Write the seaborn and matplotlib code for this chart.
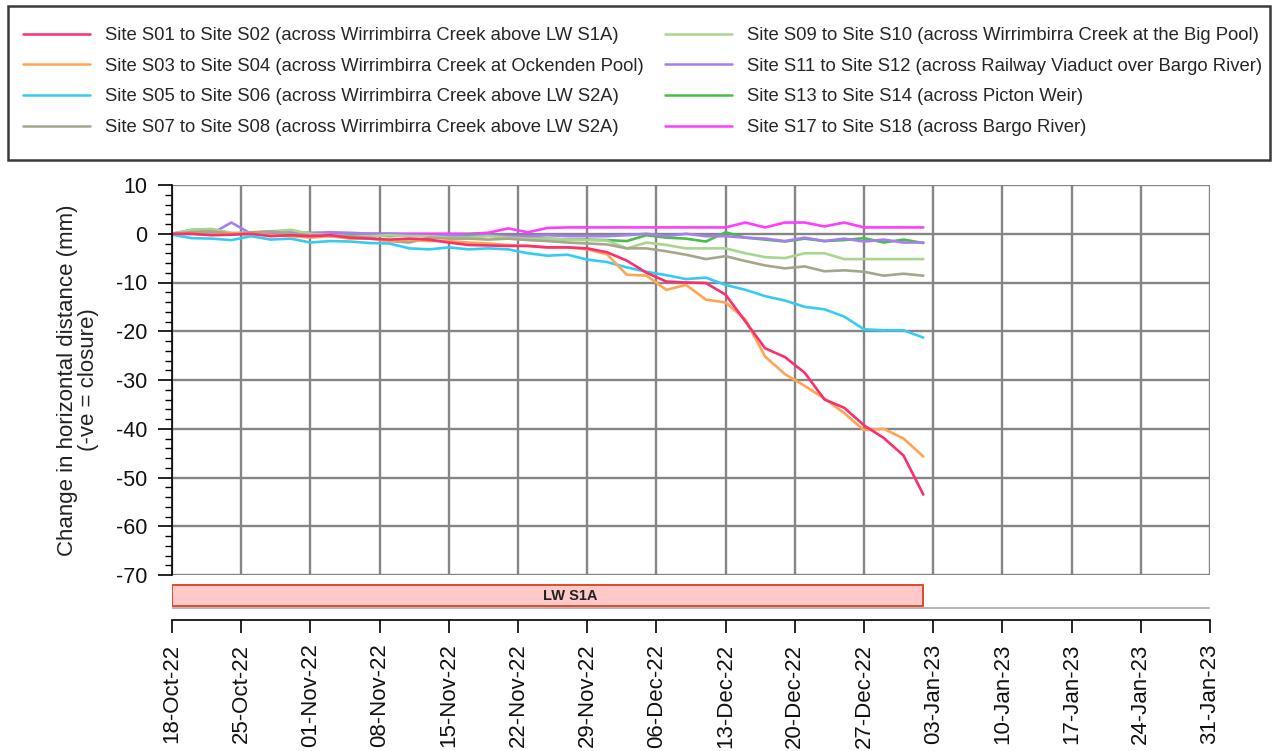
import numpy as np
import pandas as pd
import matplotlib
matplotlib.use("Agg")
import matplotlib.pyplot as plt
import matplotlib.dates as mdates
from matplotlib.ticker import MultipleLocator
from matplotlib.patches import Rectangle
import seaborn as sns

sns.set_theme(style="white")
plt.rcParams["font.family"] = ["Liberation Sans", "DejaVu Sans"]
plt.rcParams["axes.unicode_minus"] = False

# ---------------- data ----------------
survey_dates = pd.date_range("2022-10-18", "2023-01-02", freq="2D")

series_labels = [
    "Site S01 to Site S02 (across Wirrimbirra Creek above LW S1A)",
    "Site S03 to Site S04 (across Wirrimbirra Creek at Ockenden Pool)",
    "Site S05 to Site S06 (across Wirrimbirra Creek above LW S2A)",
    "Site S07 to Site S08 (across Wirrimbirra Creek above LW S2A)",
    "Site S09 to Site S10 (across Wirrimbirra Creek at the Big Pool)",
    "Site S11 to Site S12 (across Railway Viaduct over Bargo River)",
    "Site S13 to Site S14 (across Picton Weir)",
    "Site S17 to Site S18 (across Bargo River)",
]
series_colors = ["#FB2F6E", "#FFA552", "#33CDF3", "#A6A68C",
                 "#A9D68F", "#A77DF3", "#45C045", "#FF3CFF"]

s01_s02 = [0, 0, -0.3, -0.2, 0, -0.5, -0.3, -0.5, -0.3, -0.8, -1.0, -1.2, -1.0,
           -1.2, -1.8, -2.3, -2.4, -2.5, -2.5, -2.8, -2.8, -3.0, -3.8, -5.5, -8.0,
           -9.8, -10.0, -10.1, -12.5, -18.0, -23.5, -25.3, -28.5, -34.0, -35.7,
           -39.3, -41.9, -45.5, -53.5]
s03_s04 = [0, 0, -0.2, 0, 0, -0.3, -0.5, -0.8, -0.5, -1.0, -1.0, -1.5, -1.2,
           -1.5, -1.5, -1.8, -2.0, -2.3, -2.5, -2.8, -2.8, -3.2, -4.2, -8.4, -8.6,
           -11.5, -10.5, -13.5, -14.1, -17.6, -25.2, -28.8, -31.2, -33.8, -36.8,
           -40.3, -40.0, -42.0, -45.7]
s05_s06 = [-0.2, -0.9, -1.0, -1.3, -0.5, -1.2, -1.0, -1.8, -1.5, -1.6, -1.9, -2.0,
           -3.0, -3.2, -2.8, -3.2, -3.0, -3.2, -4.0, -4.5, -4.3, -5.3, -5.8, -6.9,
           -7.8, -8.5, -9.3, -9.0, -10.5, -11.5, -12.8, -13.7, -15.0, -15.5, -17.0,
           -19.6, -19.8, -19.8, -21.3]
s07_s08 = [0, 0.3, 0.5, 0, 0.3, 0.5, 0, -0.3, -0.5, -0.5, -0.8, -1.5, -1.8, -0.8,
           -1.0, -1.0, -1.2, -1.0, -1.3, -1.5, -1.8, -2.0, -2.2, -3.0, -3.0, -3.6,
           -4.3, -5.2, -4.6, -5.6, -6.5, -7.1, -6.7, -7.7, -7.5, -7.8, -8.6, -8.2,
           -8.6]
s09_s10 = [0, 0.8, 1.0, 0.2, 0.2, 0.5, 0.8, 0, -0.3, -0.5, -0.5, -0.3, -0.5, -0.5,
           -0.8, -0.8, -0.5, -0.8, -1.0, -1.0, -1.2, -1.3, -1.4, -3.0, -1.8, -2.3,
           -3.0, -3.0, -3.0, -4.0, -4.8, -5.0, -4.0, -4.0, -5.2, -5.2, -5.2, -5.2,
           -5.2]
s11_s12 = [0, 0, 0, 2.3, 0, 0, 0.3, 0.2, 0.3, 0.2, 0, 0, -0.2, -0.5, -0.3, -0.5,
           -0.3, -0.5, -0.5, -0.3, -0.5, -0.5, -0.5, -0.3, 0, -0.5, 0, -0.5, -0.5,
           -0.8, -1.0, -1.5, -0.8, -1.5, -1.0, -1.6, -1.2, -1.8, -1.8]
s13_s14 = [0, 0.8, 0.8, 0, 0, 0.3, 0.3, -0.3, -0.5, -0.3, -0.3, -0.5, -0.3, -0.5,
           -0.5, -0.2, -0.3, -0.5, -0.8, -1.0, -1.2, -1.2, -1.3, -1.5, -0.3, -0.8,
           -1.0, -1.6, 0.3, -0.8, -1.2, -1.6, -1.0, -1.5, -1.3, -0.9, -1.8, -1.2,
           -1.9]
s17_s18 = [0, 0, 0, 0, 0, 0, 0, 0, 0, 0, 0, 0, 0, 0, 0, 0, 0.2, 1.1, 0.3, 1.2, 1.3,
           1.3, 1.3, 1.3, 1.3, 1.3, 1.3, 1.3, 1.3, 2.3, 1.3, 2.3, 2.3, 1.5, 2.3, 1.3,
           1.3, 1.3, 1.3]

all_series = [s01_s02, s03_s04, s05_s06, s07_s08, s09_s10, s11_s12, s13_s14, s17_s18]

panel_label = "LW S1A"
panel_start, panel_end = "2022-10-18", "2023-01-02"
axis_start, axis_end = "2022-10-18", "2023-01-31"
y_label = "Change in horizontal distance (mm)\n(-ve = closure)"

frames = []
for lab, vals in zip(series_labels, all_series):
    frames.append(pd.DataFrame({"date": survey_dates, "value": vals, "series": lab}))
df = pd.concat(frames, ignore_index=True)

# ---------------- figure ----------------
W, H = 1276, 751
fig = plt.figure(figsize=(W / 100, H / 100), dpi=100)
fig.patch.set_facecolor("white")


def px(l, t, r, b):
    return [l / W, 1 - b / H, (r - l) / W, (b - t) / H]


ax = fig.add_axes(px(172, 185, 1210, 575))
sns.lineplot(data=df, x="date", y="value", hue="series", hue_order=series_labels,
             palette=series_colors, estimator=None, linewidth=1.9, ax=ax,
             legend=True)
handles, labels = ax.get_legend_handles_labels()
ax.get_legend().remove()
for i, line in enumerate(ax.get_lines()[:len(series_labels)]):
    line.set_zorder(10 - i)

week_ticks = pd.date_range(axis_start, axis_end, freq="7D")
ax.set_xlim(pd.Timestamp(axis_start), pd.Timestamp(axis_end))
ax.set_xticks(week_ticks)
ax.tick_params(axis="x", length=0, labelbottom=False)
ax.set_xlabel("")
ax.set_ylim(-70, 10)
ax.set_yticks(np.arange(-70, 11, 10))
ax.yaxis.set_minor_locator(MultipleLocator(2))
ax.grid(True, which="major", color="#858585", linewidth=1.7)
ax.set_axisbelow(True)
for s in ["top", "right", "bottom"]:
    ax.spines[s].set_visible(False)
ax.spines["left"].set_color("black")
ax.spines["left"].set_linewidth(1.2)
ax.spines["left"].set_zorder(20)
ax.tick_params(axis="y", which="major", direction="out", length=10, width=1.2,
               color="black", labelsize=15.5, pad=8, labelcolor="#111111", left=True)
ax.tick_params(axis="y", which="minor", direction="out", length=5, width=1.0,
               color="black", left=True)
ax.set_ylabel(y_label, fontsize=16, color="#222222", linespacing=1.0)
ax.yaxis.set_label_coords(-0.07, 0.5)

# ---------------- LW panel + date axis ----------------
ax2 = fig.add_axes(px(172, 580, 1210, 620), sharex=ax)
ax2.patch.set_alpha(0)
p0 = mdates.date2num(pd.Timestamp(panel_start))
p1 = mdates.date2num(pd.Timestamp(panel_end))
ax2.barh(y=0.6125, width=p1 - p0, left=p0, height=0.525, color="#FFC9C9",
         edgecolor="#E04A2A", linewidth=1.4)
ax2.text(p0 + (p1 - p0) * 0.53, 0.6, panel_label, ha="center", va="center",
         fontsize=10.5, fontweight="bold",
         family=["Liberation Sans Narrow", "Liberation Sans"], color="#222222")
ax2.axhline(0.3, color="#b5b5b5", linewidth=1.4)
ax2.set_ylim(0, 1)
ax2.set_yticks([])
for s in ["top", "right", "left"]:
    ax2.spines[s].set_visible(False)
ax2.spines["bottom"].set_color("black")
ax2.spines["bottom"].set_linewidth(1.2)
ax2.set_xticks(week_ticks)
ax2.xaxis.set_major_formatter(mdates.DateFormatter("%d-%b-%y"))
ax2.tick_params(axis="x", which="major", direction="out", length=9, width=1.2,
                color="black", labelsize=16, pad=8, labelrotation=90,
                labelcolor="#111111", bottom=True, labelbottom=True)
ax2.set_xlim(pd.Timestamp(axis_start), pd.Timestamp(axis_end))

# ---------------- legend ----------------
fig.legend(handles, labels, ncol=2, loc="upper left",
           bbox_to_anchor=(23 / W, 1 - 27 / H), frameon=False, fontsize=13.3,
           handlelength=3.6, handletextpad=0.85, labelspacing=0.74,
           columnspacing=1.15, borderpad=0, borderaxespad=0)
for h in fig.legends[0].legend_handles:
    h.set_linewidth(1.8)
fig.add_artist(Rectangle((8 / W, 1 - 160 / H), (1270 - 8) / W, (160 - 6) / H,
                         transform=fig.transFigure, fill=False,
                         edgecolor="#3a3a3a", linewidth=1.8))

fig.savefig("out.png", dpi=100)
